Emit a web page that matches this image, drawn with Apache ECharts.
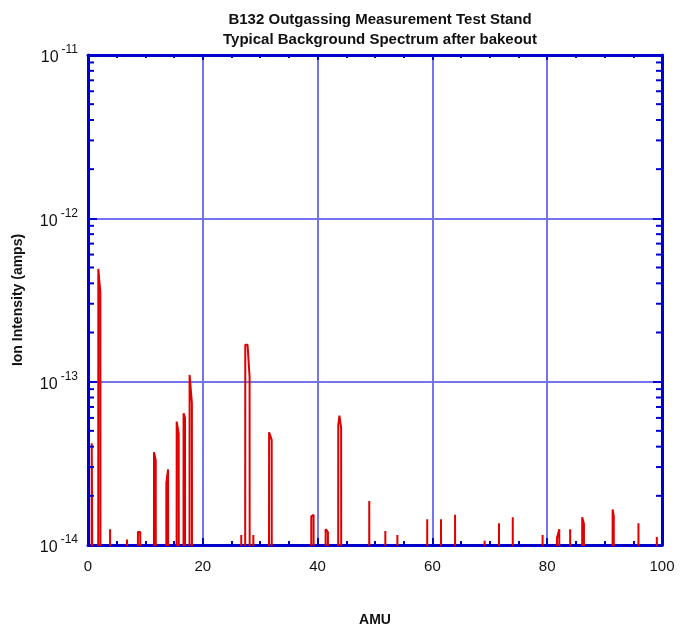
<!DOCTYPE html>
<html>
<head>
<meta charset="utf-8">
<script src="https://cdn.jsdelivr.net/npm/echarts@6/dist/echarts.min.js"></script>
<style>
html,body{margin:0;padding:0;background:#fff;}
#chart{width:681px;height:629px;}
</style>
</head>
<body>
<div id="chart"></div>
<script>
// Peak edges (AMU) and intensities (amps) at each edge
const peakLeft   = [0.65, 1.8, 3.85, 6.8, 8.7, 11.5, 13.65, 15.45, 16.65, 17.7, 26.7, 27.4, 28.8, 31.55, 38.9, 41.4, 43.6, 49.0, 51.8, 53.9, 59.1, 61.5, 63.95, 69.1, 71.6, 74.0, 79.2, 81.7, 84.0, 86.1, 91.4, 95.9, 99.1];
const peakRight  = [0.85, 2.15, 3.85, 6.95, 9.1, 11.8, 13.95, 15.8, 16.9, 18.1, 26.7, 28.15, 29.1, 32.0, 39.3, 41.8, 44.1, 49.0, 51.8, 53.9, 59.1, 61.5, 63.95, 69.1, 71.6, 74.0, 79.2, 82.1, 84.0, 86.4, 91.6, 95.9, 99.1];
const peakTopL   = [4.2e-14, 4.9e-13, 1.25e-14, 1.08e-14, 1.2e-14, 3.7e-14, 2.4e-14, 5.7e-14, 6.4e-14, 1.1e-13, 1.15e-14, 1.68e-13, 1.15e-14, 4.9e-14, 1.5e-14, 1.25e-14, 5.4e-14, 1.86e-14, 1.22e-14, 1.15e-14, 1.44e-14, 1.44e-14, 1.53e-14, 1.06e-14, 1.36e-14, 1.48e-14, 1.15e-14, 1.1e-14, 1.25e-14, 1.48e-14, 1.65e-14, 1.36e-14, 1.12e-14];
const peakTopR   = [4.2e-14, 3.5e-13, 1.25e-14, 1.1e-14, 1.2e-14, 3.3e-14, 2.9e-14, 4.8e-14, 6.0e-14, 7.4e-14, 1.15e-14, 1.07e-13, 1.12e-14, 4.4e-14, 1.53e-14, 1.2e-14, 5.2e-14, 1.86e-14, 1.22e-14, 1.15e-14, 1.44e-14, 1.44e-14, 1.53e-14, 1.06e-14, 1.36e-14, 1.48e-14, 1.15e-14, 1.25e-14, 1.25e-14, 1.35e-14, 1.5e-14, 1.36e-14, 1.12e-14];
// Inner peak maxima (AMU, amps) for peaks with a rounded top
const peakMaxAmu = [1.85, 16.75, 17.8, 27.8, 31.65, 43.8];
const peakMaxVal = [4.9e-13, 6.4e-14, 1.1e-13, 1.68e-13, 4.9e-14, 6.2e-14];
const floorVal = 1e-15;
const yTicks = [1e-14, 1e-13, 1e-12, 1e-11];
const xTicks = [0, 20, 40, 60, 80, 100];
const yMinor = [];
for (let e = -14; e < -11; e++) for (let m = 2; m <= 9; m++) yMinor.push(m * Math.pow(10, e));

// build spectrum
const pts = [];
pts.push([0, floorVal]);
for (let i = 0; i < peakLeft.length; i++) {
  const l = peakLeft[i], r = peakRight[i];
  const inner = [];
  inner.push([l, peakTopL[i]]);
  for (let k = 0; k < peakMaxAmu.length; k++) {
    if (peakMaxAmu[k] > l && peakMaxAmu[k] < r) inner.push([peakMaxAmu[k], peakMaxVal[k]]);
  }
  inner.push([r === l ? r + 0.01 : r, peakTopR[i]]);
  pts.push([l - 0.03, floorVal]);
  inner.forEach(p => pts.push(p));
  pts.push([(r === l ? r + 0.01 : r) + 0.03, floorVal]);
}
pts.push([100, floorVal]);

const blue = '#0000cc';
const gridBlue = '#7474ee';
const font = 'Arial, "Liberation Sans", Helvetica, sans-serif';

function supLabel(v) {
  const e = Math.round(Math.log10(v));
  return '{b|10}{s|' + e + '}';
}

const chart = echarts.init(document.getElementById('chart'), null, {renderer: 'canvas'});
chart.setOption({
  animation: false,
  backgroundColor: '#fff',
  title: {
    text: 'B132 Outgassing Measurement Test Stand\nTypical Background Spectrum after bakeout',
    left: 375, top: 5, textAlign: 'center',
    textStyle: {fontFamily: font, fontWeight: 'bold', fontSize: 15, color: '#111', lineHeight: 20}
  },
  grid: {left: 88, right: 19, top: 55, bottom: 84, containLabel: false, outerBoundsMode: 'none'},
  xAxis: [{
    type: 'value', min: 0, max: 100, interval: 20,
    name: 'AMU', nameLocation: 'middle', nameGap: 68,
    nameTextStyle: {fontFamily: font, fontWeight: 'bold', fontSize: 14, color: '#111'},
    axisLine: {show: true, onZero: false, lineStyle: {color: blue, width: 3}},
    axisTick: {show: true, inside: true, length: 7, lineStyle: {color: blue, width: 2}},
    minorTick: {show: true, splitNumber: 4, length: 4, lineStyle: {color: blue, width: 2}},
    axisLabel: {fontFamily: font, fontSize: 15, color: '#111', margin: 14},
    splitLine: {show: true, lineStyle: {color: gridBlue, width: 2, type: 'solid'}}
  }, {
    type: 'value', min: 0, max: 100, interval: 20, position: 'top',
    axisLine: {show: true, onZero: false, lineStyle: {color: blue, width: 3}},
    axisTick: {show: true, inside: true, length: 5, lineStyle: {color: blue, width: 2}},
    minorTick: {show: true, splitNumber: 4, length: 3, lineStyle: {color: blue, width: 2}},
    axisLabel: {show: false}, splitLine: {show: false}
  }],
  yAxis: [{
    type: 'log', min: 1e-14, max: 1e-11, logBase: 10,
    name: 'Ion Intensity (amps)', nameLocation: 'middle', nameGap: 63, nameRotate: 90,
    nameTextStyle: {fontFamily: font, fontWeight: 'bold', fontSize: 14, color: '#111'},
    axisLine: {show: true, onZero: false, lineStyle: {color: blue, width: 3}},
    axisTick: {show: true, inside: true, length: 9, lineStyle: {color: blue, width: 2}},
    axisLabel: {
      formatter: supLabel, margin: 10,
      rich: {
        b: {fontFamily: font, fontSize: 16, color: '#111', padding: [6, 0, 0, 0]},
        s: {fontFamily: font, fontSize: 12, color: '#111', verticalAlign: 'top', padding: [0, 0, 6, 3]}
      }
    },
    splitLine: {show: true, lineStyle: {color: gridBlue, width: 2, type: 'solid'}}
  }, {
    type: 'log', min: 1e-14, max: 1e-11, logBase: 10, position: 'right',
    axisLine: {show: true, onZero: false, lineStyle: {color: blue, width: 3}},
    axisTick: {show: true, inside: true, length: 9, lineStyle: {color: blue, width: 2}},
    axisLabel: {show: false}, splitLine: {show: false}
  }],
  series: [{
    type: 'line',
    data: pts,
    showSymbol: false,
    symbol: 'none',
    clip: true,
    lineStyle: {color: '#e00000', width: 2},
    z: 5
  }, {
    type: 'custom',
    data: yMinor.map(v => [0, v]),
    clip: false,
    z: 6,
    renderItem: function (params, api) {
      const v = api.value(1);
      const pl = api.coord([0, v]);
      const pr = api.coord([100, v]);
      return {
        type: 'group',
        children: [
          {type: 'line', shape: {x1: pl[0], y1: pl[1], x2: pl[0] + 6, y2: pl[1]}, style: {stroke: blue, lineWidth: 2}},
          {type: 'line', shape: {x1: pr[0], y1: pr[1], x2: pr[0] - 6, y2: pr[1]}, style: {stroke: blue, lineWidth: 2}}
        ]
      };
    }
  }]
});
</script>
</body>
</html>
